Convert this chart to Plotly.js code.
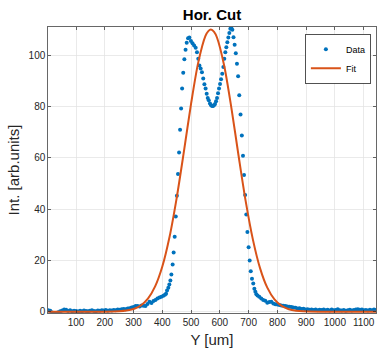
<!DOCTYPE html>
<html>
<head>
<meta charset="utf-8">
<script src="https://cdn.plot.ly/plotly-3.0.1.min.js"></script>
<style>html,body{margin:0;padding:0;background:#fff;}#chart{width:377px;height:351px;}</style>
</head>
<body>
<div id="chart"></div>
<script>
// Measured data: position Y [um] and intensity [arb.units]
const dataX = [
 3.5,10.4,17.3,24.2,31.1,38,44.9,51.8,58.7,65.6,72.5,79.4,86.3,93.2,100.1,107,113.9,120.8,127.7,134.6,
 141.5,148.4,155.3,162.2,169.1,176,182.9,189.8,196.7,203.6,210.5,217.4,224.3,231.2,238.1,245,251.9,258.8,265.7,272.6,
 279.5,286.4,293.3,300.2,307.1,314,320.9,327.8,334.7,341.6,348.5,355.4,362.3,369.2,376.1,383,389.9,396.8,403.7,409,
 413,416.4,420.9,424.4,428,431.5,435.9,439.4,443,446.8,450.6,454.5,458.2,461.8,465.3,468.8,472.7,476.6,480.8,484.8,
 489.5,494,499.5,505,510.5,516,520.5,525,529,533.3,537.8,542.3,546.3,550.5,554.3,557.9,561.5,565.7,569.4,572.9,
 576.4,579.8,583.3,586.8,590.3,593.7,597.2,600.7,604.2,608.3,612.2,615.6,619.1,622.6,626.1,629.6,633,636.5,640,643.5,
 647.5,651.5,655.5,659.5,663.5,667.5,672,676.5,680.5,684.2,688,692,695.8,700,703.8,707.5,711.8,716.2,720,723.5,727,
 731,737,744,751,758,765,772,779,786,793,800,807,814,821,828,835,842,849,856,863,870,877,884,891,898,905,912,919,926,
 933,940,947,954,961,968,975,982,989,996,1003,1010,1017,1024,1031,1038,1045,1052,1059,1066,1073,1080,1087,1094,1101,
 1108,1115,1122,1129,1136,1142
];
const dataY = [
 0.6,0.4,-0.3,-0.6,-0.5,-0.2,0.2,0.5,0.9,0.8,0.3,0.6,0.2,0.4,0.3,0.1,0.4,0.2,0.5,0.3,
 0.2,0.4,0.6,0.3,0.2,0.5,0.4,0.6,0.5,0.7,0.4,0.6,0.5,0.7,0.6,0.9,0.8,1.0,1.1,1.0,
 1.3,1.4,1.6,1.8,2.2,2.2,2.0,2.4,2.3,2.2,3.0,3.9,3.4,4.2,4.6,5.2,5.5,5.8,6.2,6.6,
 7.0,8.3,9.3,10.6,12.2,14.5,18.4,23.1,29.2,37.1,45.2,53.7,62.1,70.9,79.2,87.0,93.2,98.4,102.1,104.9,
 106.6,106.9,105.5,104.7,103.8,102.9,101.2,98.6,96.0,94.8,93.4,90.9,88.7,87.0,85.0,83.3,82.4,81.2,80.5,80.2,
 80.2,80.5,81.0,82.1,83.3,85.2,87.0,88.8,90.6,92.8,95.4,98.6,101.2,103.1,105.1,106.9,108.7,110.3,110.9,109.9,
 107.0,104.1,100.8,96.7,91.8,84.4,76.9,68.7,60.8,53.3,45.5,37.9,31.1,25.1,20.0,15.8,12.9,11.0,9.0,7.8,6.8,
 6.3,5.8,5.2,4.6,4.3,3.5,3.8,3.9,3.2,2.9,2.8,2.6,2.4,2.3,2.2,2.0,1.9,1.8,1.6,1.5,1.3,1.4,1.1,1.2,0.9,1.0,0.8,0.9,0.7,
 0.9,0.6,0.8,0.7,0.9,0.6,0.8,0.5,0.9,0.6,0.7,1.0,0.6,0.5,0.7,0.4,0.6,0.8,0.5,0.7,0.9,1.0,0.8,0.9,0.6,
 0.7,0.5,0.8,0.6,0.9,0.7
];
// Fit curve
const fitX = [3,100,200,250,275,300,325,350,375,400,425,450,475,500,525,550,560,569,580,590,615,640,665,690,715,740,765,790,815,840,865,890,950,1050,1143];
const fitY = [0,0,0.02,0.16,0.43,1.06,2.42,5.08,9.85,17.6,29.1,44.4,62.4,81.1,97.2,107.5,109.4,110,109.1,106.9,96.0,79.6,60.9,43.0,28.1,16.9,9.37,4.80,2.27,0.99,0.40,0.15,0.01,0,0];

const xTicks = [100,200,300,400,500,600,700,800,900,1000,1100];
const yTicks = [0,20,40,60,80,100];
const titleText = 'Hor. Cut';
const xTitle = 'Y [um]';
const yTitle = 'Int. [arb.units]';

const FONT = 'Liberation Sans, Arial, Helvetica, sans-serif';
const AX = '#262626';

const traces = [
  {x: dataX, y: dataY, type: 'scatter', mode: 'markers', name: 'Data',
   marker: {color: '#0072BD', size: 4}},
  {x: fitX, y: fitY, type: 'scatter', mode: 'lines', name: 'Fit',
   line: {color: '#D95319', width: 2, shape: 'spline', smoothing: 0.8}}
];

const axisCommon = {
  showline: true, mirror: 'ticks', linecolor: AX, linewidth: 0.7,
  ticks: 'inside', ticklen: 3, tickcolor: AX, tickwidth: 0.7,
  showgrid: true, gridcolor: '#e1e1e1', gridwidth: 0.7, zeroline: false,
  tickfont: {family: FONT, size: 10, color: AX}
};

const layout = {
  width: 377, height: 351,
  margin: {l: 48, r: 1, t: 27, b: 38},
  paper_bgcolor: '#fff', plot_bgcolor: '#fff',
  font: {family: FONT, color: AX},
  title: {text: '<b>' + titleText + '</b>', font: {family: FONT, size: 15, color: '#000'},
          xref: 'paper', x: 0.5, xanchor: 'center', yref: 'container', y: 0.958, yanchor: 'middle'},
  xaxis: Object.assign({}, axisCommon, {range: [2.5, 1143], tickvals: xTicks, ticktext: xTicks.map(String),
          title: {text: xTitle, font: {family: FONT, size: 15, color: AX}, standoff: 7}}),
  yaxis: Object.assign({}, axisCommon, {range: [-0.5, 111], tickvals: yTicks, ticktext: yTicks.map(String),
          title: {text: yTitle, font: {family: FONT, size: 15, color: AX}, standoff: 5}}),
  showlegend: true,
  legend: {x: 0.985, y: 0.976, xanchor: 'right', yanchor: 'top', bgcolor: '#fff',
           bordercolor: AX, borderwidth: 0.8, font: {family: FONT, size: 9, color: '#000'},
           itemwidth: 30, tracegroupgap: 0}
};

Plotly.newPlot('chart', traces, layout, {staticPlot: true, displayModeBar: false});
</script>
</body>
</html>
